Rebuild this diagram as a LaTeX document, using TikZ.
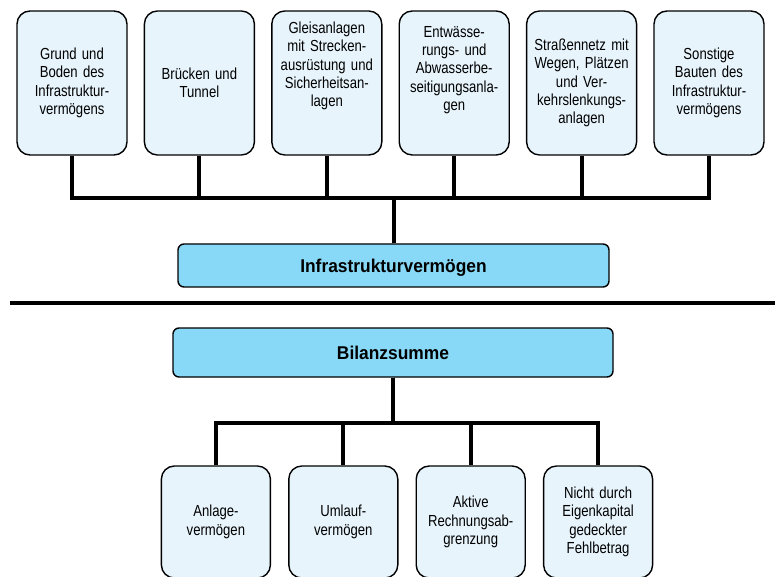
\documentclass[tikz,border=0pt]{standalone}
\usepackage{fontspec}
\newfontfamily\boxfont[FakeStretch=0.82]{Liberation Sans}
\newfontfamily\headfont[FakeStretch=0.94]{Liberation Sans}
\definecolor{boxblue}{RGB}{231,244,252}
\definecolor{headblue}{RGB}{135,217,247}

\begin{document}
\begin{tikzpicture}[x=1pt, y=1pt, sibling distance=127.4pt,
  every node/.style={draw, line width=1.4pt, inner sep=0pt, align=center},
  partbox/.style={fill=boxblue, rounded corners=13pt, minimum width=110pt, minimum height=144pt,
    text width=106pt, font=\boxfont\fontsize{16pt}{18.3pt}\selectfont},
  sumbox/.style={fill=headblue, rounded corners=6pt, font=\headfont\bfseries\fontsize{18.5pt}{22pt}\selectfont},
  edge from parent/.style={draw, line width=4pt}]
\useasboundingbox (0,0) rectangle (775,576);

\node[sumbox, minimum width=431pt, minimum height=43pt, text depth=-1pt] (infra) at (393.5,310.5) {Infrastrukturvermögen}
  [grow'=up, level distance=182.5pt, every child node/.style={xshift=-3pt},
   edge from parent path={(\tikzparentnode.north) -- ++(0,45) -| (\tikzchildnode.south)}]
  child { node[partbox] (grund) {Grund und\\Boden des\\Infrastruktur-\\vermögens} }
  child { node[partbox] (bruecken) {Brücken und\\Tunnel} }
  child { node[partbox, text depth=110.6pt] (gleis) {Gleisanlagen\\mit Strecken-\\ausrüstung und\\Sicherheitsan-\\lagen} }
  child { node[partbox, text depth=102.6pt] (entw) {Entwässe-\\rungs- und\\Abwasserbe-\\seitigungsanla-\\gen} }
  child { node[partbox] (strasse) {Straßennetz mit\\Wegen, Plätzen\\und Ver-\\kehrslenkungs-\\anlagen} }
  child { node[partbox] (sonst) {Sonstige\\Bauten des\\Infrastruktur-\\vermögens} };

\draw[line width=3.5pt] (10,273) -- (775,273);

\node[sumbox, minimum width=440pt, minimum height=49pt] (bilanz) at (393,223.5) {Bilanzsumme}
  [level distance=169.5pt, every child node/.style={xshift=14pt},
   edge from parent path={(\tikzparentnode.south) -- ++(0,-45) -| (\tikzchildnode.north)}]
  child { node[partbox, minimum width=109pt, minimum height=112pt] (anlage) {Anlage-\\vermögen} }
  child { node[partbox, minimum width=109pt, minimum height=112pt] (umlauf) {Umlauf-\\vermögen} }
  child { node[partbox, minimum width=109pt, minimum height=112pt] (rap) {Aktive\\Rechnungsab-\\grenzung} }
  child { node[partbox, minimum width=109pt, minimum height=112pt] (fehl) {Nicht durch\\Eigenkapital\\gedeckter\\Fehlbetrag} };
\end{tikzpicture}
\end{document}
